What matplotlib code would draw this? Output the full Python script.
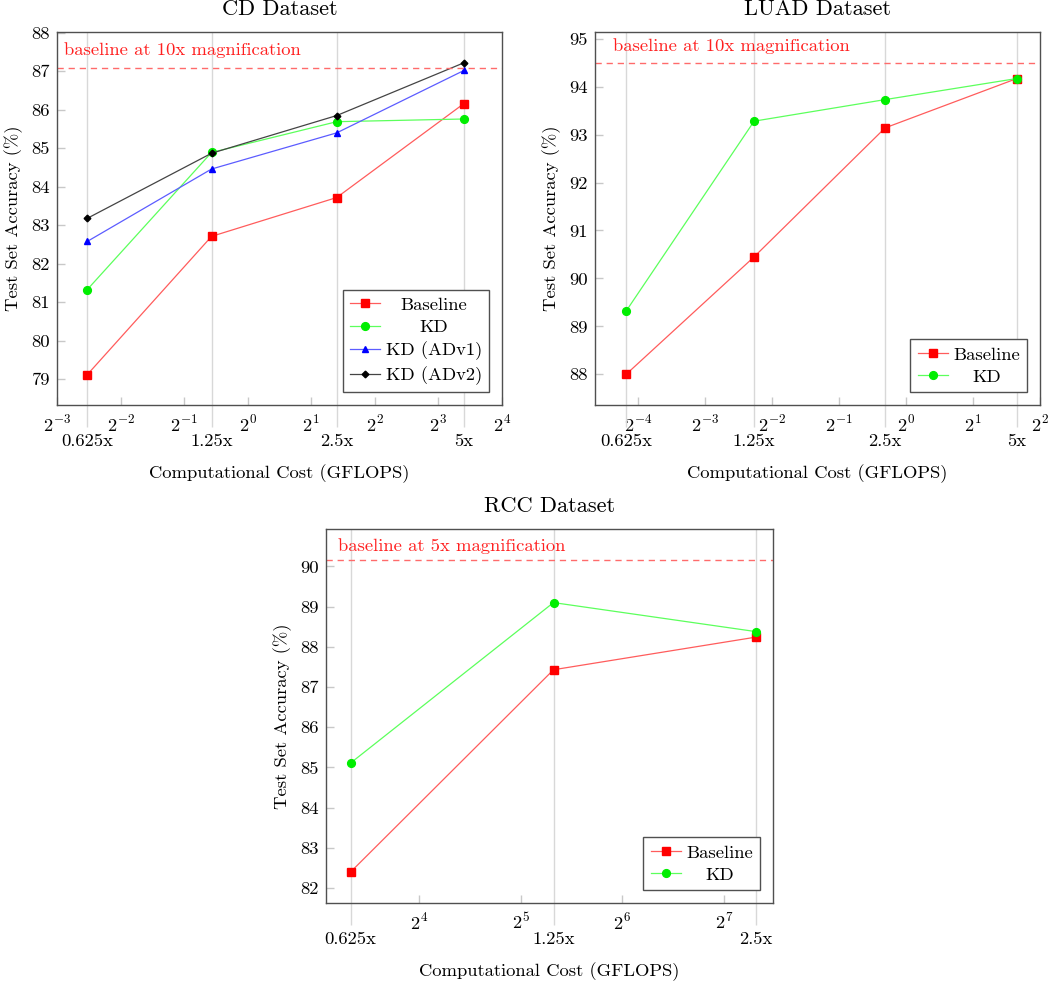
# Accuracy vs. computational cost for the three datasets
#------------------------------------------------------------------------------
import numpy as np
import matplotlib
matplotlib.use('Agg')
import matplotlib.pyplot as plt
from matplotlib.ticker import FixedLocator, FixedFormatter
#------------------------------------------------------------------------------

# global plt parameters
#------------------------------------------------------------------------------
plt.rcParams['font.family'] = 'cmr10'
plt.rcParams['mathtext.fontset'] = 'cm'
plt.rcParams['axes.formatter.use_mathtext'] = True
plt.rcParams['font.size'] = 13.4
#------------------------------------------------------------------------------

# data
#------------------------------------------------------------------------------
mag_labels = ['0.625x', '1.25x', '2.5x', '5x']

# CD dataset
cd_gflops = [0.174, 0.674, 2.64, 10.56]
cd_baseline = [79.12, 82.71, 83.72, 86.16]
cd_kd = [81.33, 84.89, 85.69, 85.76]
cd_kd_adv1 = [82.58, 84.46, 85.40, 87.02]
cd_kd_adv2 = [83.18, 84.87, 85.85, 87.22]
cd_ref = 87.08

# LUAD dataset
luad_gflops = [0.055, 0.207, 0.804, 3.15]
luad_baseline = [88.00, 90.45, 93.14, 94.17]
luad_kd = [89.32, 93.28, 93.73, 94.17]
luad_ref = 94.50

# RCC dataset
rcc_gflops = [10.0, 40.0, 159.0]
rcc_baseline = [82.40, 87.43, 88.24]
rcc_kd = [85.11, 89.10, 88.38]
rcc_ref = 90.15
#------------------------------------------------------------------------------

# styles
#------------------------------------------------------------------------------
styles = {
    'Baseline': dict(color='#ff5c5c', marker='s', ms=5.2, mfc='#ff0000', mec='#ff0000'),
    'KD': dict(color='#5cff5c', marker='o', ms=5.6, mfc='#00ee00', mec='#00ee00'),
    'KD (ADv1)': dict(color='#5c5cff', marker='^', ms=4.6, mfc='#0000ff', mec='#0000ff'),
    'KD (ADv2)': dict(color='#444444', marker='D', ms=3.4, mfc='#000000', mec='#000000'),
}

W, H = 1050, 983
fig = plt.figure(figsize=(W / 100, H / 100), dpi=100)


def px_axes(left, top, right, bottom):
    return fig.add_axes([left / W, 1 - bottom / H, (right - left) / W, (bottom - top) / H])


def draw_panel(ax, title, x, series, ref, ref_text, text_pos, xpow, xlim, ylim, yticks):
    for name, y in series:
        ax.plot(x, y, lw=0.9, label=name, **styles[name])
    ax.axhline(ref, color='#ff6b6b', lw=1.0, ls=(0, (4.5, 3.5)))
    ax.text(text_pos[0], text_pos[1], ref_text, color='#ff2020',
            transform=ax.transAxes, ha='left', va='center')

    ax.set_xscale('log', base=2)
    ax.set_xlim(xlim)
    ax.set_ylim(ylim)

    pw = np.arange(xpow[0], xpow[1] + 1)
    ax.xaxis.set_major_locator(FixedLocator(2.0 ** pw))
    ax.xaxis.set_major_formatter(FixedFormatter(['$2^{%d}$' % p for p in pw]))
    ax.xaxis.set_minor_locator(FixedLocator(x))
    ax.xaxis.set_minor_formatter(FixedFormatter(mag_labels[:len(x)]))
    ax.set_yticks(yticks)
    ax.set_yticklabels([str(v) for v in yticks])

    ax.tick_params(axis='x', which='major', direction='in', length=6, width=1,
                   color='#c8c8c8', labelcolor='black', pad=6, top=False)
    ax.tick_params(axis='x', which='minor', direction='out', length=16, width=1,
                   color='#d8d8d8', labelcolor='black', pad=5)
    ax.tick_params(axis='y', direction='in', length=6, width=1,
                   color='#c8c8c8', labelcolor='black', pad=5, right=False)
    ax.grid(True, which='minor', axis='x', color='#d8d8d8', lw=1)
    ax.grid(False, which='major')

    for s in ax.spines.values():
        s.set_color('#505050')
        s.set_linewidth(1)

    ax.set_title(title, pad=12)
    ax.set_xlabel('Computational Cost (GFLOPS)', labelpad=11)
    ax.set_ylabel('Test Set Accuracy (%)', labelpad=6)

    leg = ax.legend(loc='lower right', fancybox=False, framealpha=1,
                    edgecolor='#505050', borderaxespad=0.68, handlelength=1.6,
                    handletextpad=0.3, labelspacing=0.33, borderpad=0.4)
    leg.get_frame().set_linewidth(1)
    return leg


# plot the three panels
#------------------------------------------------------------------------------
ax1 = px_axes(57, 32, 502, 405)
leg1 = draw_panel(ax1, 'CD Dataset', cd_gflops,
                  [('Baseline', cd_baseline), ('KD', cd_kd),
                   ('KD (ADv1)', cd_kd_adv1), ('KD (ADv2)', cd_kd_adv2)],
                  cd_ref, 'baseline at 10x magnification', (0.016, 0.952),
                  (-3, 4), (2.0 ** -3, 2.0 ** 4), (78.33, 88.02), range(79, 89))

ax2 = px_axes(595, 32, 1040, 405)
leg2 = draw_panel(ax2, 'LUAD Dataset', luad_gflops,
                  [('Baseline', luad_baseline), ('KD', luad_kd)],
                  luad_ref, 'baseline at 10x magnification', (0.04, 0.962),
                  (-4, 2), (2.0 ** -4.65, 2.0 ** 2.0), (87.36, 95.14), range(88, 96))

ax3 = px_axes(326, 529, 773, 903)
leg3 = draw_panel(ax3, 'RCC Dataset', rcc_gflops,
                  [('Baseline', rcc_baseline), ('KD', rcc_kd)],
                  rcc_ref, 'baseline at 5x magnification', (0.027, 0.955),
                  (4, 7), (2.0 ** 3.08, 2.0 ** 7.485), (81.63, 90.93), range(82, 91))

# center the legend entries like pgfplots does
fig.canvas.draw()
for leg in (leg1, leg2, leg3):
    texts = leg.get_texts()
    widths = [t.get_window_extent().width for t in texts]
    wmax = max(widths)
    for t, w in zip(texts, widths):
        t.set_x((wmax - w) / 2)

fig.savefig('out.png', dpi=100)
#------------------------------------------------------------------------------
